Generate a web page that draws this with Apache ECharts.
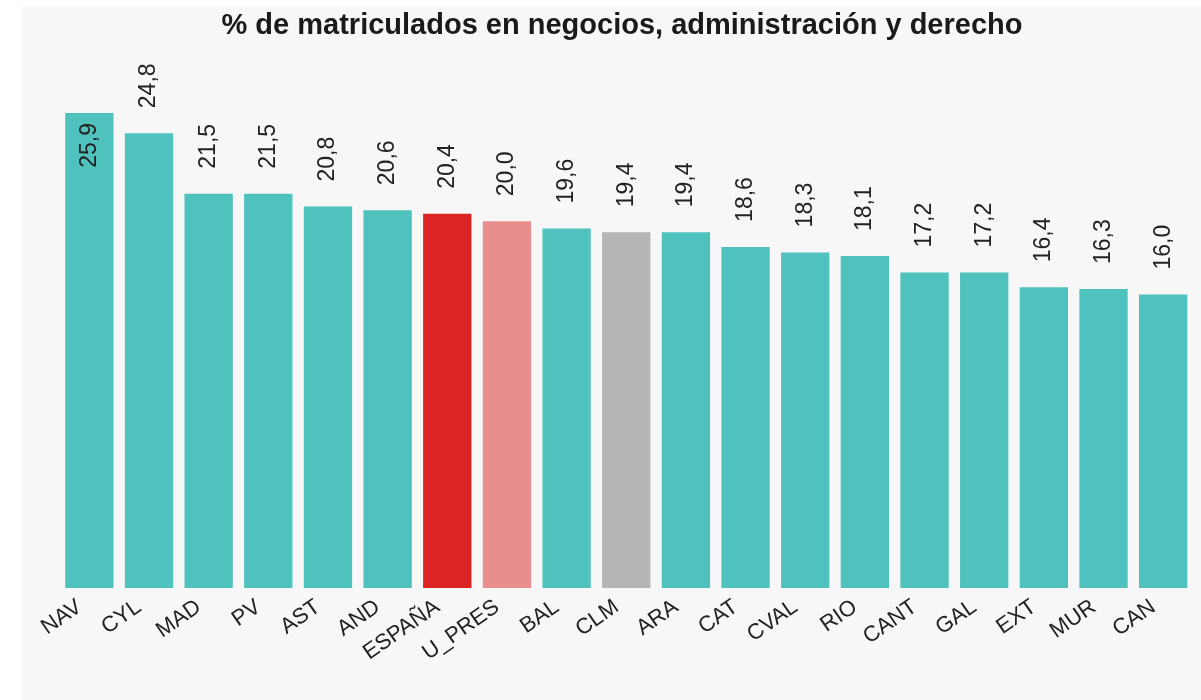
<!DOCTYPE html>
<html>
<head>
<meta charset="utf-8">
<script src="https://cdn.jsdelivr.net/npm/echarts@6/dist/echarts.min.js"></script>
<style>
    html, body { margin: 0; padding: 0; background: #ffffff; }
    #chart { position: absolute; left: 22px; top: 6px; width: 1179px; height: 694px; background: #f7f7f7; }
</style>
</head>
<body>
<div id="chart"></div>
<script>
// datos
var regiones = ["NAV", "CYL", "MAD", "PV", "AST", "AND", "ESPAÑA", "U_PRES", "BAL", "CLM",
    "ARA", "CAT", "CVAL", "RIO", "CANT", "GAL", "EXT", "MUR", "CAN"];
var porcentajes = [25.9, 24.8, 21.5, 21.5, 20.8, 20.6, 20.4, 20.0, 19.6, 19.4,
    19.4, 18.6, 18.3, 18.1, 17.2, 17.2, 16.4, 16.3, 16.0];

(function () {
    var fuente = "Liberation Sans, Arial, sans-serif";
    var colorBase = "#4fc2be";
    var destacados = { "ESPAÑA": "#dc2424", "U_PRES": "#e88f8e", "CLM": "#b5b5b5" };
    var maximo = Math.max.apply(null, porcentajes);

    var items = [];
    for (var i = 0; i < regiones.length; i++) {
        var item = {
            value: porcentajes[i],
            itemStyle: { color: destacados[regiones[i]] || colorBase }
        };
        // la barra más alta lleva la etiqueta dentro
        if (porcentajes[i] === maximo) {
            item.label = { position: "insideTop", align: "right", distance: 10 };
        }
        items.push(item);
    }

    var myChart = echarts.init(document.getElementById("chart"));
    var option = {
        animation: false,
        title: {
            text: "% de matriculados en negocios, administración y derecho",
            left: 600,
            top: 5,
            padding: 0,
            textAlign: "center",
            textStyle: {
                fontFamily: fuente,
                fontSize: 29,
                fontWeight: "bold",
                color: "#1a1a1a"
            }
        },
        grid: {
            left: 37.5,
            right: 8,
            top: 107,
            bottom: 112,
            containLabel: false
        },
        xAxis: {
            type: "category",
            data: regiones,
            axisLine: { show: false },
            axisTick: { show: false },
            axisLabel: {
                interval: 0,
                rotate: 35,
                margin: 10,
                padding: [0, 12, 0, 0],
                fontFamily: fuente,
                fontSize: 22,
                color: "#222222"
            }
        },
        yAxis: {
            type: "value",
            min: 0,
            max: maximo,
            show: false,
            splitLine: { show: false }
        },
        series: [
            {
                type: "bar",
                data: items,
                barCategoryGap: "19%",
                label: {
                    show: true,
                    position: "top",
                    distance: 25,
                    rotate: 90,
                    align: "left",
                    verticalAlign: "middle",
                    fontFamily: fuente,
                    fontSize: 23,
                    color: "#222222",
                    formatter: function (p) {
                        return p.value.toFixed(1).replace(".", ",");
                    }
                }
            }
        ]
    };
    myChart.setOption(option);
})();
</script>
</body>
</html>
